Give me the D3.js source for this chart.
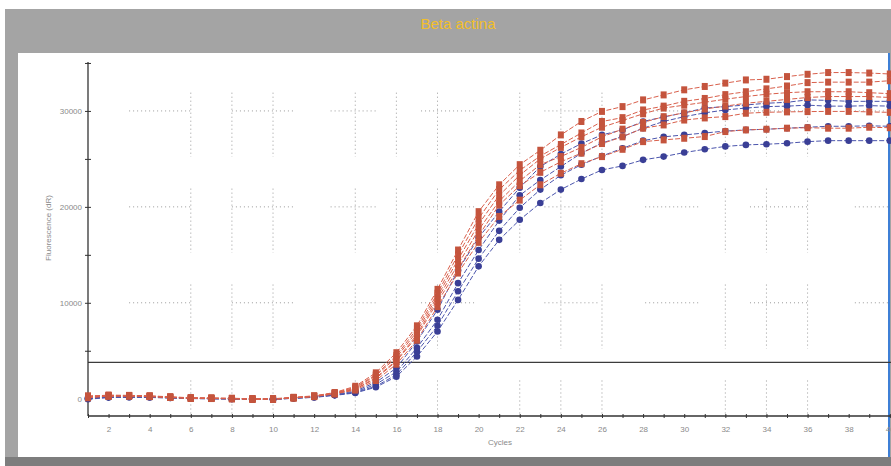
<!DOCTYPE html>
<html lang="en">
<head>
<meta charset="UTF-8">
<title>Beta actina</title>
<style>
  body { margin: 0; background: #fff; }
  svg { display: block; font-family: "Liberation Sans", Arial, sans-serif; }
  .tick-label { font-size: 8px; fill: #8a8a8a; }
  .axis-title { font-size: 8px; fill: #8a8a8a; }
</style>
</head>
<body>
<svg id="chart" width="891" height="466"></svg>
<script src="https://d3js.org/d3.v7.min.js"></script>
<script>
// cycles 1..40
const cycles = d3.range(1, 41);

// red square series (fluorescence dR per cycle)
const red1 = [250,380,350,300,200,100,80,50,0,0,150,300,650,1300,2700,4800,7600,11400,15500,19500,22300,24400,25900,27500,28900,29950,30450,31150,31670,32200,32550,32900,33230,33300,33580,33820,34000,34000,33950,33850];
const red2 = [150,300,320,280,180,80,60,30,-20,-30,120,280,600,1200,2500,4500,7300,11000,15000,18800,21800,23800,25300,26500,27700,28900,29300,30100,30500,31000,31300,31700,32000,32300,32600,32950,33000,33000,33000,33150];
const red3 = [200,350,300,260,160,60,40,20,-30,-40,100,260,580,1100,2400,4300,7000,10700,14500,18200,21200,23300,25000,26200,27300,28300,29000,29700,30300,30600,30900,31220,31500,31740,31900,32000,32000,32000,31900,31800];
const red4 = [100,280,330,250,150,50,50,0,-40,-50,100,250,550,1000,2200,4000,6700,10400,14000,17600,20600,22700,24400,25240,26200,27300,28100,28800,29400,29800,30200,30500,30800,31000,31200,31400,31500,31500,31500,31400];
const red5 = [300,320,280,240,140,70,30,10,-30,-20,90,240,520,1000,2100,3900,6500,10100,13500,17000,20200,22200,23600,24700,25600,26600,27300,28200,28540,29050,29270,29410,29760,29860,29900,29930,29950,29950,29900,29850];
const red6 = [180,260,300,220,130,40,20,0,-50,-50,80,220,500,900,1900,3600,6100,9600,13100,16300,19000,20700,22300,23500,24500,25240,26000,26800,26980,27150,27330,27850,28020,28090,28200,28250,28200,28200,28300,28250];

// blue circle series
const blue1 = [50,200,220,200,120,40,20,0,-40,-40,80,200,450,800,1700,3200,5970,9270,13400,16800,19500,22000,24200,25500,26600,27500,28020,28900,29370,29800,30300,30450,30620,30800,30900,31150,31100,31000,31000,31000];
const blue2 = [0,150,200,180,100,30,10,-20,-50,-50,60,180,400,700,1500,2800,5300,8230,12050,15500,18570,21200,22800,24200,25600,26660,27330,28200,28900,29400,29800,30100,30300,30450,30500,30600,30500,30500,30550,30500];
const blue3 = [80,180,160,150,90,20,0,-20,-50,-60,50,160,380,650,1300,2500,4900,7600,11200,14600,17500,19900,21800,23300,24400,25300,26100,26900,27300,27500,27700,27900,28020,28090,28200,28300,28400,28400,28450,28400];
const blue4 = [-50,120,150,130,80,20,0,-30,-60,-60,40,140,350,600,1200,2300,4400,7010,10300,13800,16560,18650,20400,21800,22900,23850,24270,24900,25240,25660,26000,26300,26460,26530,26630,26800,26900,26900,26900,26900];

const threshold = 3800;
const yLabelTicks = [0, 10000, 20000, 30000];
const xLabelTicks = d3.range(2, 41, 2);

const blueSeries = [blue4, blue3, blue2, blue1];
const redSeries = [red6, red5, red4, red3, red2, red1];

// broken dotted grid of the original print
const gridCycles = [6, 8, 10, 14, 16, 18, 22, 24, 26, 32, 34, 36];
const gridLevels = [0, 10000, 20000, 30000];
const gridSpans = [[3, 6], [8, 11.1], [12.8, 15.1], [17.2, 19.8], [23.2, 25.9], [28.1, 30.8], [33.2, 36.1], [38.3, 40]];

const svg = d3.select("#chart");

// frame
svg.append("rect").attr("x", 5).attr("y", 9).attr("width", 886).attr("height", 457).attr("fill", "#a4a4a4");
svg.append("rect").attr("x", 5).attr("y", 457).attr("width", 886).attr("height", 9).attr("fill", "#7d7d7d");
svg.append("rect").attr("x", 18).attr("y", 53).attr("width", 871).attr("height", 404).attr("fill", "#ffffff");
svg.append("line").attr("x1", 889).attr("x2", 889).attr("y1", 53).attr("y2", 457)
    .attr("stroke", "#3d7fd6").attr("stroke-width", 2);

svg.append("text")
    .attr("x", 458).attr("y", 29)
    .attr("text-anchor", "middle")
    .attr("font-size", 15)
    .attr("fill", "#f2bf2a")
    .text("Beta actina");

const x = d3.scaleLinear().domain([1, 40]).range([88, 889.8]);
const y = d3.scaleLinear().domain([-1800, 35100]).range([416, 62]);

// grid
const grid = svg.append("g").attr("stroke", "#9a9a9a").attr("stroke-width", 1).attr("stroke-dasharray", "1,3");
gridCycles.forEach(c => {
    gridLevels.forEach(l => {
        grid.append("line")
            .attr("x1", x(c)).attr("x2", x(c))
            .attr("y1", y(l + 1900)).attr("y2", y(Math.max(l - 4800, -1800)));
    });
});
gridLevels.slice(1).forEach(l => {
    gridSpans.forEach(s => {
        grid.append("line")
            .attr("x1", x(s[0])).attr("x2", x(s[1]))
            .attr("y1", y(l)).attr("y2", y(l));
    });
});

// threshold
svg.append("line")
    .attr("x1", x(1)).attr("x2", 891)
    .attr("y1", y(threshold)).attr("y2", y(threshold))
    .attr("stroke", "#3c3c3c").attr("stroke-width", 1.3);

// axes
const yAxis = svg.append("g")
    .attr("transform", `translate(${x(1)},0)`)
    .call(d3.axisLeft(y).tickValues(d3.range(0, 35001, 5000)).tickSize(3).tickFormat(""));
yAxis.selectAll(".tick line").attr("x2", 3).attr("x1", -3).attr("stroke", "#333");
yAxis.select(".domain").attr("d", `M0,${y(35100)}V${y(-1800)}`).attr("stroke", "#333").attr("stroke-width", 1.3);
yAxis.selectAll(".tick").filter(d => yLabelTicks.includes(d))
    .append("text").attr("class", "tick-label")
    .attr("x", -6).attr("dy", "0.32em").attr("text-anchor", "end")
    .text(d => d);

const xAxis = svg.append("g")
    .attr("transform", `translate(0,${y(-1800)})`)
    .call(d3.axisBottom(x).tickValues(cycles).tickSize(3).tickFormat(""));
xAxis.selectAll(".tick line").attr("y1", -2).attr("y2", 2).attr("stroke", "#333");
xAxis.select(".domain").attr("d", `M${x(1)},0H891`).attr("stroke", "#333").attr("stroke-width", 1.3);
xAxis.selectAll(".tick").filter(d => xLabelTicks.includes(d))
    .append("text").attr("class", "tick-label")
    .attr("y", 16).attr("text-anchor", "middle")
    .text(d => d);

svg.append("text").attr("class", "axis-title")
    .attr("x", 488).attr("y", 445)
    .text("Cycles");
svg.append("text").attr("class", "axis-title")
    .attr("transform", "translate(51,228) rotate(-90)")
    .attr("text-anchor", "middle")
    .text("Fluorescence (dR)");

// curves
const line = d3.line().x((d, i) => x(cycles[i])).y(d => y(d));

function drawSeries(values, lineColor, markColor, square) {
    const g = svg.append("g");
    g.append("path")
        .attr("d", line(values))
        .attr("fill", "none")
        .attr("stroke", lineColor)
        .attr("stroke-width", 1)
        .attr("stroke-dasharray", "5,2");
    if (square) {
        g.selectAll("rect").data(values).enter().append("rect")
            .attr("x", (d, i) => x(cycles[i]) - 3)
            .attr("y", d => y(d) - 3.5)
            .attr("width", 6).attr("height", 7)
            .attr("fill", markColor);
    } else {
        g.selectAll("circle").data(values).enter().append("circle")
            .attr("cx", (d, i) => x(cycles[i]))
            .attr("cy", d => y(d))
            .attr("r", 3.3)
            .attr("fill", markColor);
    }
}

blueSeries.forEach(s => drawSeries(s, "#4b55ad", "#3a3f96", false));
redSeries.forEach(s => drawSeries(s, "#d9604c", "#c4543d", true));
</script>
</body>
</html>
